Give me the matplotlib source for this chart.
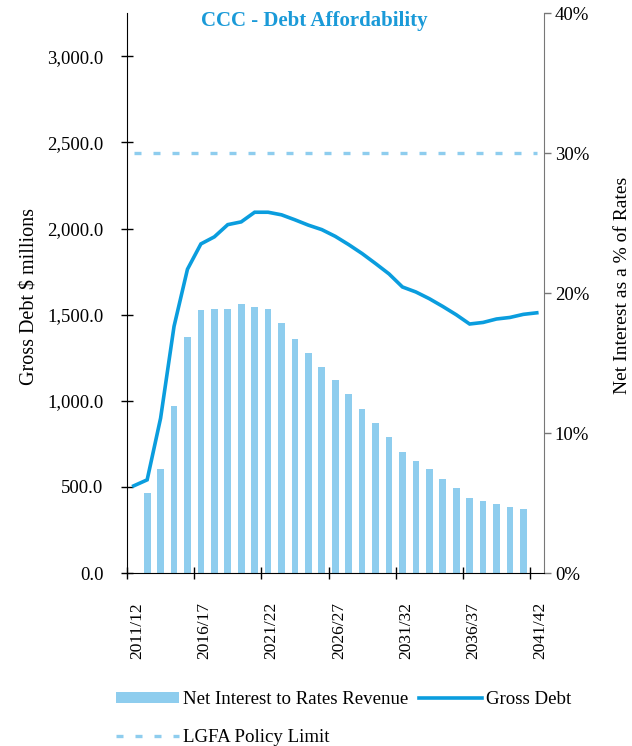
import matplotlib
matplotlib.use("Agg")
import matplotlib.pyplot as plt
import matplotlib.transforms as mtransforms
import numpy as np
from matplotlib.ticker import FuncFormatter, FixedLocator

# Financial years 2011/12 .. 2041/42
years = [f"{y}/{(y + 1) % 100:02d}" for y in range(2011, 2042)]

# Gross debt, $ millions (left axis)
gross_debt = [506, 541, 899, 1432, 1764, 1911, 1952, 2023, 2039, 2095, 2095,
              2080, 2051, 2020, 1994, 1955, 1907, 1855, 1797, 1737, 1661,
              1632, 1593, 1548, 1500, 1446, 1455, 1475, 1484, 1502, 1511]

# Net interest as a % of rates revenue (right axis); none for first/last year
net_interest_pct = [np.nan, 5.71, 7.43, 11.93, 16.88, 18.79, 18.86, 18.86, 19.21,
                    19.0, 18.86, 17.86, 16.71, 15.71, 14.71, 13.79, 12.79, 11.71,
                    10.71, 9.71, 8.64, 8.0, 7.43, 6.71, 6.07, 5.36, 5.14, 4.93,
                    4.71, 4.57, np.nan]

# LGFA policy limit, % of rates
policy_limit_pct = [30.0] * len(years)

BAR_COLOR = "#8ECDEE"
LINE_COLOR = "#0A9DDE"
TITLE_COLOR = "#1A9AD8"
SERIF = "Liberation Serif"

plt.rcParams["font.family"] = [SERIF, "DejaVu Serif"]

fig = plt.figure(figsize=(6.32, 7.46), dpi=100)
ax = fig.add_axes([127 / 632, 173 / 746, 416.5 / 632, 560 / 746])
ax2 = ax.twinx()

x = np.arange(len(years))

bars = ax2.bar(x, net_interest_pct, width=0.5, color=BAR_COLOR, zorder=1)
limit, = ax2.plot(x, policy_limit_pct, color=BAR_COLOR, lw=2.4,
                  linestyle=(0, (2.1, 3.6)), dash_capstyle="butt", zorder=2)
ax2.set_ylim(0, 40)
ax2.yaxis.set_major_locator(FixedLocator([0, 10, 20, 30, 40]))
ax2.yaxis.set_major_formatter(FuncFormatter(lambda v, _: f"{v:.0f}%"))

# left axis drawn on top of the twin so the debt line sits above bars
ax.set_zorder(ax2.get_zorder() + 1)
ax.patch.set_visible(False)
debt, = ax.plot(x, gross_debt, color=LINE_COLOR, lw=2.6, solid_joinstyle="miter")
ax.set_ylim(0, 3252)
ax.yaxis.set_major_locator(FixedLocator(np.arange(0, 3001, 500)))
ax.yaxis.set_major_formatter(FuncFormatter(lambda v, _: f"{v:,.1f}"))

ax.set_xlim(-0.5, len(years) - 0.5)
ax.set_xticks(x[::5])
ax.set_xticklabels(years[::5], rotation=90)
ax.set_xticks(np.arange(-0.5, len(years) - 1, 5), minor=True)
ax.tick_params(axis="x", which="major", length=0, pad=21, labelsize=12.5)
ax.tick_params(axis="x", which="minor", direction="inout", length=9, width=1)
ax.tick_params(axis="y", direction="inout", length=9, width=1, labelsize=13.5, pad=12.5)
ax2.tick_params(axis="y", direction="out", length=5, width=1, labelsize=13.5,
                color="#777777", pad=3.2)

# nudge the rotated year labels slightly right of the category centre
shift = mtransforms.ScaledTranslation(3.5 / 100, 0, fig.dpi_scale_trans)
for lbl in ax.get_xticklabels():
    lbl.set_transform(lbl.get_transform() + shift)

ax.spines["top"].set_visible(False)
ax2.spines["top"].set_visible(False)
ax.spines["right"].set_visible(False)
ax2.spines["left"].set_visible(False)
ax2.spines["bottom"].set_visible(False)
ax2.spines["right"].set_color("#777777")

ax.set_ylabel("Gross Debt $ millions", fontsize=14.5, va="center")
ax.yaxis.set_label_coords((30 - 127) / 416.5, (573 - 296) / 560)
ax2.set_ylabel("Net Interest as a % of Rates", fontsize=14, va="center")
ax2.yaxis.set_label_coords((623 - 127) / 416.5, (573 - 285) / 560)

fig.text(314 / 632, 1 - 21 / 746, "CCC - Debt Affordability", ha="center", va="center",
         fontsize=15, fontweight="bold", color=TITLE_COLOR)

fig.legend([bars, limit, debt],
           ["Net Interest to Rates Revenue", "LGFA Policy Limit", "Gross Debt"],
           ncol=2, loc="upper left", bbox_to_anchor=(116 / 632, 1 - 691 / 746),
           frameon=False, fontsize=13.6, handlelength=3.33, handleheight=0.53,
           handletextpad=0.2, columnspacing=0.6, labelspacing=1.1, borderpad=0,
           borderaxespad=0)

fig.savefig("out.png", dpi=100)
